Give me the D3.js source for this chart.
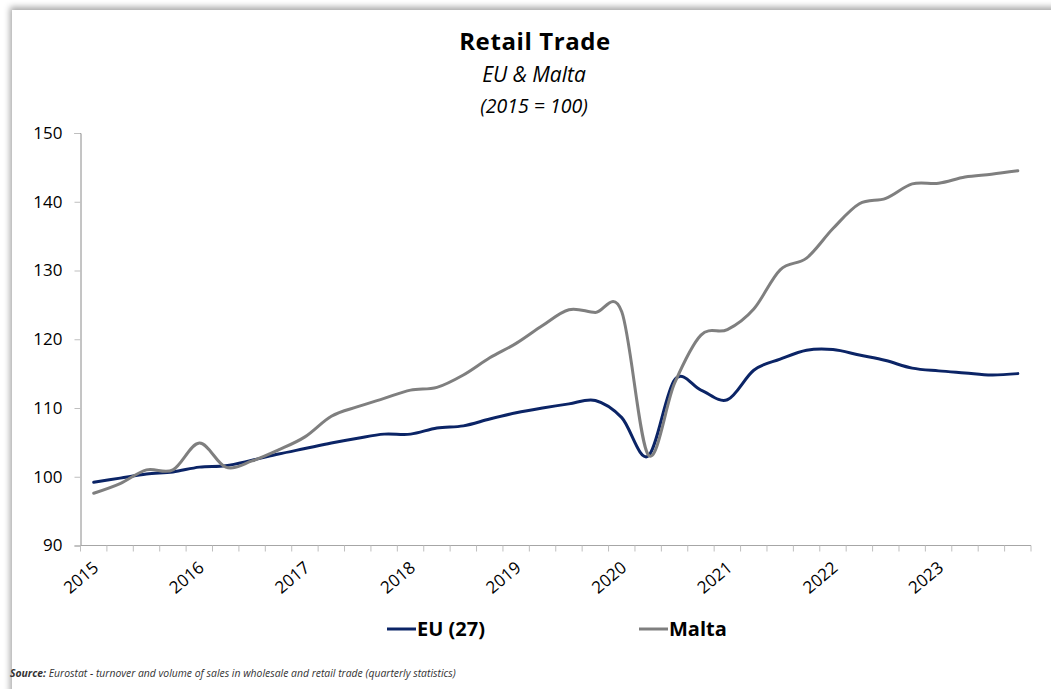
<!DOCTYPE html>
<html>
<head>
<meta charset="utf-8">
<script src="https://cdn.jsdelivr.net/npm/d3@7/dist/d3.min.js"></script>
<style>
  body { margin: 0; background: #ffffff; }
  svg { display: block; font-family: 'Open Sans', 'Noto Sans', sans-serif; }
</style>
</head>
<body>
<div id="chart"></div>
<script>
// quarterly periods 2015 Q1 .. 2023 Q4
const years = ['2015', '2016', '2017', '2018', '2019', '2020', '2021', '2022', '2023'];
const quarters = years.flatMap(y => ['Q1', 'Q2', 'Q3', 'Q4'].map(q => `${y} ${q}`));

const euValues = [
    99.2, 99.8, 100.4, 100.7, 101.4, 101.6, 102.4, 103.3, 104.1, 104.9, 105.6, 106.2,
    106.2, 107.1, 107.4, 108.4, 109.3, 110.0, 110.6, 111.1, 108.6, 103.0, 114.1, 112.6,
    111.2, 115.5, 117.1, 118.4, 118.5, 117.7, 116.9, 115.8, 115.4, 115.1, 114.8, 115.0
];
const maltaValues = [
    97.6, 99.0, 101.0, 101.0, 104.9, 101.4, 102.3, 103.9, 105.8, 108.8, 110.2, 111.4,
    112.6, 113.0, 114.8, 117.3, 119.4, 122.0, 124.3, 123.9, 124.0, 103.2, 113.6, 120.6,
    121.4, 124.4, 130.1, 131.8, 136.1, 139.7, 140.5, 142.6, 142.7, 143.6, 144.0, 144.5
];
const yTicks = [90, 100, 110, 120, 130, 140, 150];

const seriesList = [
    { name: 'EU (27)', values: euValues, color: '#0b2466' },
    { name: 'Malta', values: maltaValues, color: '#7f7f7f' }
];

const width = 1051;
const height = 689;
const plot = { left: 80.5, right: 1031, top: 133, bottom: 545.5 };

const svg = d3.select('#chart').append('svg')
    .attr('width', width)
    .attr('height', height);

// panel with a soft shadow on top / left
const defs = svg.append('defs');
const shadow = defs.append('filter').attr('id', 'shadow')
    .attr('x', '-5%').attr('y', '-5%').attr('width', '110%').attr('height', '110%');
shadow.append('feDropShadow')
    .attr('dx', -2).attr('dy', -3).attr('stdDeviation', 3)
    .attr('flood-color', '#000').attr('flood-opacity', 0.35);

svg.append('rect')
    .attr('x', 12).attr('y', 10)
    .attr('width', width + 20).attr('height', height + 20)
    .attr('fill', '#fff')
    .attr('filter', 'url(#shadow)');

// titles
svg.append('text')
    .attr('x', 535).attr('y', 50)
    .attr('text-anchor', 'middle')
    .attr('font-size', 24).attr('font-weight', 'bold')
    .attr('letter-spacing', 0.6)
    .text('Retail Trade');
svg.append('text')
    .attr('x', 534).attr('y', 82)
    .attr('text-anchor', 'middle')
    .attr('font-size', 21).attr('font-style', 'italic')
    .text('EU & Malta');
svg.append('text')
    .attr('x', 534).attr('y', 113)
    .attr('text-anchor', 'middle')
    .attr('font-size', 19.5).attr('font-style', 'italic')
    .text('(2015 = 100)');

const xScale = d3.scaleBand()
    .domain(quarters)
    .range([plot.left, plot.right]);

const yScale = d3.scaleLinear()
    .domain([90, 150])
    .range([plot.bottom, plot.top]);

// y axis
const yAxis = svg.append('g')
    .attr('transform', `translate(${plot.left}, 0)`)
    .call(d3.axisLeft(yScale).tickValues(yTicks).tickSize(6).tickPadding(12));
yAxis.select('.domain').attr('stroke', '#8a8a8a');
yAxis.selectAll('.tick line').attr('stroke', '#bfbfbf');
yAxis.selectAll('.tick text')
    .attr('font-size', 17).attr('fill', '#000')
    .attr('font-family', "'Open Sans', sans-serif");

// x axis: ticks between quarters, labels on the first quarter of each year
const boundaries = quarters.map(q => xScale(q)).concat([plot.right]);
const xAxis = svg.append('g');
xAxis.append('line')
    .attr('x1', plot.left).attr('x2', plot.right)
    .attr('y1', plot.bottom).attr('y2', plot.bottom)
    .attr('stroke', '#a6a6a6');
xAxis.selectAll('line.tick')
    .data(boundaries)
    .enter().append('line')
    .attr('class', 'tick')
    .attr('x1', d => d).attr('x2', d => d)
    .attr('y1', plot.bottom).attr('y2', plot.bottom + 6)
    .attr('stroke', '#bfbfbf');
xAxis.selectAll('text')
    .data(quarters.filter(q => q.endsWith('Q1')))
    .enter().append('text')
    .attr('transform', d => {
        const cx = xScale(d) + xScale.bandwidth() / 2 + 6;
        return `translate(${cx}, ${plot.bottom + 24}) rotate(-40)`;
    })
    .attr('text-anchor', 'end')
    .attr('font-size', 17)
    .text(d => d.slice(0, 4));

// lines
const line = d3.line()
    .x((d, i) => xScale(quarters[i]) + xScale.bandwidth() / 2)
    .y(d => yScale(d))
    .curve(d3.curveCardinal.tension(0));

svg.selectAll('path.series')
    .data(seriesList)
    .enter().append('path')
    .attr('class', 'series')
    .attr('fill', 'none')
    .attr('stroke', d => d.color)
    .attr('stroke-width', 3)
    .attr('stroke-linecap', 'round')
    .attr('d', d => line(d.values));

// legend
const legendX = [387, 639];
const legend = svg.selectAll('g.legend')
    .data(seriesList)
    .enter().append('g')
    .attr('class', 'legend')
    .attr('transform', (d, i) => `translate(${legendX[i]}, 629)`);
legend.append('line')
    .attr('x1', 0).attr('x2', 29)
    .attr('stroke', d => d.color)
    .attr('stroke-width', 3);
legend.append('text')
    .attr('x', 30).attr('y', 7)
    .attr('font-size', 20).attr('font-weight', 'bold')
    .text(d => d.name);

// source note
const source = svg.append('text')
    .attr('x', 10).attr('y', 677)
    .attr('font-size', 10.4).attr('font-style', 'italic')
    .attr('fill', '#333');
source.append('tspan').attr('font-weight', 'bold').text('Source:');
source.append('tspan').text(' Eurostat - turnover and volume of sales in wholesale and retail trade (quarterly statistics)');
</script>
</body>
</html>
